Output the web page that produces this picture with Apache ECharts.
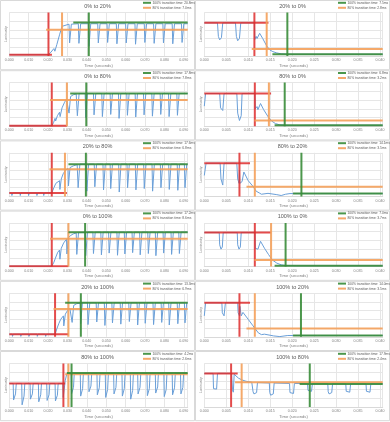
<!DOCTYPE html>
<html><head><meta charset="utf-8">
<script src="https://cdn.jsdelivr.net/npm/echarts@6/dist/echarts.min.js"></script>
<style>html,body{margin:0;padding:0;background:#fff}#c{width:390px;height:422px}</style>
</head><body><div id="c"></div>
<script>
const titles = ['0% to 20%','20% to 0%','0% to 80%','80% to 0%','20% to 80%','80% to 20%','0% to 100%','100% to 0%','20% to 100%','100% to 20%','80% to 100%','100% to 80%'];
const t100 = [20.8, 7.5, 17.8, 6.8, 17.6, 14.1, 17.2, 7.0, 13.3, 14.0, 4.2, 17.9];
const t80 = [7.0, 2.8, 7.8, 3.2, 6.8, 3.5, 8.6, 3.7, 6.9, 3.5, 2.6, 2.4];
const startTime = [20.2, 11.4, 21.9, 11.5, 21.9, 8.0, 21.9, 11.5, 23.6, 8.0, 27.9, 6.1];
const startLevel = [3, 76, 1, 75, 8, 76, 1, 78, 6, 78, 54, 77];
const startLineEnd = [22, 14.6, 29.7, 15.2, 29.7, 10.4, 30.5, 15.2, 30.5, 10.4, 28.8, 7.6];
const level80 = [60, 16, 60, 13, 62, 22, 64, 15, 64, 19, 75, 57];
const level80From = [19, 10.8, 21, 11.4, 20.7, 9.6, 21, 11.4, 22.8, 9.6, 28.8, 7];
const endLevel = [77, 4, 75, 2, 74, 6.5, 79, 2, 78, 3, 78, 53];
const endLineFrom = [33, 15.5, 31.4, 16, 30.5, 20.2, 30.5, 16, 28.8, 20.2, 29.7, 21.7];
const timeMax = [92, 40.6, 92, 40.6, 92, 40.6, 92, 40.6, 92, 40.6, 92, 40.6];
const timeStep = [10, 5, 10, 5, 10, 5, 10, 5, 10, 5, 10, 5];

const blue1 = [[0,3],[20.2,3],[21.5,9],[23,17],[23.5,11],[24.5,26],[26,50],[27.2,68],[28.2,72],[30.8,73],[31.1,30],[32.0,73],
[35.6,74],[35.9,29],[36.8,74],[40.8,74],[41.1,22],[42.0,74],[45.6,74],[45.9,30],[46.8,74],[50.4,74],[50.7,31],[51.6,74],
[55.2,74],[55.5,28],[56.4,74],[60.0,74],[60.3,30],[61.2,74],[64.8,74],[65.1,27],[66.0,74],[69.6,74],[69.9,31],[70.8,74],
[74.4,74],[74.7,29],[75.6,74],[79.2,74],[79.5,30],[80.4,74],[84.0,74],[84.3,28],[85.2,74],[88.8,74],[89.1,31],[90.0,74],[92,74]];
const blue2 = [[0,76],[3.0,76],[3.2,45],[3.5,37],[3.9,42],[4.2,76],[7.1,76],[7.3,45],[7.6,35],[8.0,40],[8.3,76],[11.4,76],[11.5,38],[11.8,45],[12.0,40],[12.6,52],[13.3,40],[14.2,23],[14.9,14],[15.6,10],[16.5,7],[17.5,5],[18.5,4.5],[20,4],[25,4],[25.2,2.5],[25.6,4],[29.3,4],[29.5,2.5],[29.9,4],[33.6,4],[33.8,2.5],[34.2,4],[37.9,4],[38.1,2.5],[38.5,4],[40.6,4]];
const blue3 = [[0,1],[21.9,1],[22.8,8],[23.6,18],[23.9,12],[24.8,24],[25.9,32],[26.2,22],[27.2,42],[28.5,55],[29.5,62],[30.5,66],[30.8,30],[31.6,68],[33,72],[34.5,74],[34.8,74],[35.1,24],[36.0,75],
[39.1,75],[39.4,20],[40.3,75],[43.4,75],[43.7,26],[44.6,75],[47.7,75],[48.0,22],[48.9,75],[52.0,75],[52.3,27],[53.2,75],
[56.3,75],[56.6,18],[57.5,75],[60.6,75],[60.9,25],[61.8,75],[64.9,75],[65.2,21],[66.1,75],[69.2,75],[69.5,26],[70.4,75],
[73.5,75],[73.8,23],[74.7,75],[77.8,75],[78.1,27],[79.0,75],[82.1,75],[82.4,22],[83.3,75],[86.4,75],[86.7,25],[87.6,75],[92,75]];
const blue4 = [[0,46],[0.3,75],[3.5,75],[3.7,42],[4.2,36],[4.5,75],[7.4,75],[7.6,30],[8.0,13],[8.4,24],[8.6,75],[11.5,75],[11.6,40],[12.0,45],[12.2,38],[12.8,52],[13.5,38],[14.5,22],[15.3,12],[16.2,6],[17.2,3],[18.5,2],[21,1.5],[25,2],[30,2],[40.6,2]];
const blue5 = [[0,8],[1.2,8],[1.35,2],[1.7,8],[5.5,8],[5.65,2],[6.0,8],[9.8,8],[9.95,2],[10.3,8],[14.1,8],[14.25,2],[14.6,8],[17.6,8],[17.75,2],[18.1,8],[21.9,8],[23,20],[24,30],[25.9,36],[26.1,16],[26.8,40],[27.8,52],[29,60],[30.3,64],[30.5,24],[31.3,66],[33,70],[35,73],
[35.2,73],[35.5,20],[36.4,74],[39.7,74],[40.0,12],[40.9,74],[43.8,74],[44.1,22],[45.0,74],[48.3,74],[48.6,15],[49.5,74],
[52.0,74],[52.3,18],[53.2,74],[56.4,74],[56.7,10],[57.6,74],[60.7,74],[61.0,20],[61.9,74],[65.0,74],[65.3,15],[66.2,74],
[69.3,74],[69.6,18],[70.5,74],[73.6,74],[73.9,12],[74.8,74],[77.9,74],[78.2,20],[79.1,74],[82.2,74],[82.5,16],[83.4,74],
[86.6,74],[86.9,14],[87.8,74],[90.3,74],[90.6,20],[91.5,74],[92,74]];
const blue6 = [[0,48],[0.4,76],[3.6,76],[3.8,40],[4.2,26],[4.5,76],[7.4,76],[7.6,40],[7.9,30],[8.0,60],[8.1,30],[8.6,34],[9.0,56],[10.0,36],[11.0,24],[11.8,12],[12.5,8],[13.0,5],[13.4,8],[14.5,7],[16.5,4],[17.5,2],[18.5,5],[19.5,6.5],[21.3,6.5],[21.5,3],[21.9,6.5],[25.8,6.5],[26,3],[26.4,6.5],[30,6.5],[30.2,3],[30.6,6.5],[34.1,6.5],[34.3,3],[34.7,6.5],[38.3,6.5],[38.5,3],[38.9,6.5],[40.6,6.5]];
const blue7 = [[0,1],[21.9,1],[23,10],[24,22],[25,33],[25.9,38],[26.1,17],[26.8,42],[28,54],[29.5,63],[29.7,29],[30.5,66],[31.5,71],[33,75],[34.5,77],[34.8,28],[35.7,78],
[39.1,78],[39.4,25],[40.3,79],[43.1,79],[43.4,30],[44.3,79],[47.2,79],[47.5,27],[48.4,79],[51.2,79],[51.5,31],[52.4,79],
[55.5,79],[55.8,26],[56.7,79],[59.3,79],[59.6,29],[60.5,79],[63.3,79],[63.6,32],[64.5,79],[67.2,79],[67.5,27],[68.4,79],
[71.4,79],[71.7,30],[72.6,79],[75.3,79],[75.6,25],[76.5,79],[79.3,79],[79.6,31],[80.5,79],[83.4,79],[83.7,28],[84.6,79],
[87.4,79],[87.7,30],[88.6,79],[92,79]];
const blue8 = [[0,78],[3.4,78],[3.5,50],[3.8,40],[4.1,45],[4.3,78],[7.5,78],[7.6,50],[7.9,40],[8.2,45],[8.4,78],[11.5,78],[11.6,42],[12.0,46],[12.2,40],[12.8,58],[13.7,42],[14.6,28],[15.5,15],[16.5,8],[17.5,4],[18.5,2.5],[21,2],[40.6,2]];
const blue9 = [[0,6],[1.5,6],[1.65,1],[2.0,6],[5.8,6],[5.95,1],[6.3,6],[10.0,6],[10.15,1],[10.5,6],[14.3,6],[14.45,1],[14.8,6],[18.6,6],[18.75,1],[19.1,6],[23.6,6],[24.5,18],[25.5,30],[26.5,40],[27.9,48],[28.1,25],[28.9,52],[30,60],[31.2,66],[32.2,70],[32.4,33],[33.2,72],[34.8,76],[36.5,77],[36.8,30],[37.7,78],
[40.3,78],[40.6,28],[41.5,78],[44.8,78],[45.1,34],[46.0,78],[49.0,78],[49.3,26],[50.2,78],[52.9,78],[53.2,32],[54.1,78],
[57.2,78],[57.5,29],[58.4,78],[61.6,78],[61.9,35],[62.8,78],[65.9,78],[66.2,27],[67.1,78],[69.8,78],[70.1,31],[71.0,78],
[74.1,78],[74.4,28],[75.3,78],[78.3,78],[78.6,33],[79.5,78],[82.2,78],[82.5,27],[83.4,78],[86.6,78],[86.9,30],[87.8,78],
[90.3,78],[90.6,32],[91.5,78],[92,78]];
const blue10 = [[0,48],[0.3,78],[4.0,78],[4.1,55],[4.5,48],[4.8,78],[7.6,78],[7.7,55],[8.0,48],[8.1,70],[8.4,48],[8.8,56],[9.1,60],[10.0,40],[11.1,25],[12.3,9],[13.0,5],[13.3,8],[13.7,6],[15.8,2],[17.2,0.5],[19,3],[21.3,3],[21.5,1],[21.9,3],[25.8,3],[26,1],[26.4,3],[30,3],[30.2,1],[30.6,3],[34.1,3],[34.3,1],[34.7,3],[38.3,3],[38.5,1],[38.9,3],[40.6,3]];
const blue11 = [[0,54],[2.0,54],[2.2,16],[3.2,30],[3.6,54],[6.4,54],[6.6,5],[7.6,25],[8.0,54],[10.7,54],[10.9,18],[11.9,30],[12.3,54],
[15.0,54],[15.2,12],[16.2,28],[16.6,54],[19.3,54],[19.5,15],[20.5,28],[20.9,54],[23.6,54],[23.8,14],[24.8,27],[25.2,54],
[27.6,54],[27.8,22],[28.3,40],[28.8,60],[29.7,77],[31.9,77],[32.1,30],[33.1,45],[33.5,77],[36.6,77],[36.8,25],[37.8,42],[38.2,77],
[40.9,77],[41.1,35],[42.1,48],[42.5,77],[45.2,77],[45.4,28],[46.4,44],[46.8,77],[49.5,77],[49.7,22],[50.7,40],[51.1,77],
[53.8,77],[54.0,30],[55.0,45],[55.4,77],[58.1,77],[58.3,25],[59.3,42],[59.7,77],[62.4,77],[62.6,18],[63.6,38],[64.0,77],
[66.2,77],[66.4,30],[67.4,45],[67.8,77],[71.0,77],[71.2,26],[72.2,42],[72.6,77],[75.3,77],[75.5,32],[76.5,46],[76.9,77],
[79.7,77],[79.9,24],[80.9,40],[81.3,77],[84.0,77],[84.2,28],[85.2,44],[85.6,77],[88.3,77],[88.5,30],[89.5,45],[89.9,77],[92,77]];
const blue12 = [[0,77],[2.0,77],[2.1,42],[2.3,39],[2.8,41],[3.0,77],[6.2,77],[6.4,40],[6.6,34],[6.8,75],[7.2,79],[7.8,66],[8.6,62],[9.5,59],[10.8,57],[11.0,57],[11.1,35],[11.3,30],[11.9,33],[12.1,56],
[14.8,55],[14.9,33],[15.1,27],[15.7,30],[15.9,55],[19.4,54],[19.5,33],[19.7,29],[20.3,31],[20.5,54],[23.5,53.5],[23.6,38],[23.8,34],[24.4,36],[24.6,53.5],
[28.1,53.5],[28.2,35],[28.4,30],[29.0,33],[29.2,53.5],[32.2,53],[32.3,36],[32.5,32],[33.1,34],[33.3,53],[36.8,53],[36.9,36],[37.1,32],[37.7,34],[37.9,53],[40.6,53]];
const blueSeries = [blue1, blue2, blue3, blue4, blue5, blue6, blue7, blue8, blue9, blue10, blue11, blue12];

const PW = 195, PH = 70.2;
const RED = 'rgba(222,45,45,0.85)', ORANGE = 'rgba(244,160,90,0.9)', GREEN = 'rgba(56,140,56,0.9)', BLUE = '#6a9fd8';
const FONT = 'Liberation Sans, Arial, sans-serif';
const grids = [], xAxes = [], yAxes = [], series = [], legends = [], graphics = [];

for (let i = 0; i < 12; i++) {
  const r = Math.floor(i / 2), c = i % 2;
  const x0 = c * PW, y0 = r * PH;
  graphics.push({type: 'rect', shape: {x: x0 + 0.5, y: y0 + 0.5, width: PW - 1, height: PH - 1}, style: {fill: 'none', stroke: '#d9d9d9', lineWidth: 1}, silent: true});
  graphics.push({type: 'text', x: x0 + 97.5, y: y0 + 3.2, style: {text: titles[i], textAlign: 'center', fontSize: 5.5, fill: '#595959', fontFamily: FONT}, silent: true});
  grids.push({left: x0 + 9.3, top: y0 + 12.4, width: 178.4, height: 43.6});
  xAxes.push({
    gridIndex: i, type: 'value', min: 0, max: timeMax[i], interval: timeStep[i],
    axisLabel: {fontSize: 3.6, color: '#7f7f7f', margin: 2.2, showMaxLabel: false, fontFamily: FONT,
      formatter: v => (v / 1000).toFixed(3)},
    axisTick: {show: false},
    axisLine: {lineStyle: {color: '#d9d9d9', width: 1}},
    splitLine: {lineStyle: {color: '#e6e6e6', width: 1}},
    name: 'Time (seconds)', nameLocation: 'middle', nameGap: 7.5,
    nameTextStyle: {fontSize: 4.2, color: '#7f7f7f', fontFamily: FONT}
  });
  yAxes.push({
    gridIndex: i, type: 'value', min: 0, max: 100, interval: 20,
    axisLabel: {show: false}, axisTick: {show: false}, axisLine: {show: false},
    splitLine: {lineStyle: {color: '#e6e6e6', width: 1}},
    name: 'Luminosity', nameLocation: 'middle', nameRotate: 90, nameGap: 2.2,
    nameTextStyle: {fontSize: 3.3, color: '#7f7f7f', fontFamily: FONT}
  });
  const gName = '100% transition time: ' + t100[i].toFixed(1) + 'ms';
  const oName = '80% transition time: ' + t80[i].toFixed(1) + 'ms';
  const xMax = timeMax[i];
  const tRed = startTime[i], tOr = startTime[i] + t80[i], tGr = startTime[i] + t100[i];
  const base = {type: 'line', xAxisIndex: i, yAxisIndex: i, showSymbol: false, symbol: 'none', silent: true, animation: false};
  series.push(Object.assign({}, base, {name: 'Response ' + (i + 1), data: blueSeries[i], z: 2, lineStyle: {color: BLUE, width: 1}, itemStyle: {color: BLUE}}));
  const mk = (name, color, data) => Object.assign({}, base, {name, data, z: 3, lineStyle: {color, width: 2}, itemStyle: {color}});
  series.push(mk('Start ' + (i + 1), RED, [[0, startLevel[i]], [startLineEnd[i], startLevel[i]]]));
  series.push(mk('Start ' + (i + 1), RED, [[tRed, 0], [tRed, 100]]));
  series.push(mk(oName, ORANGE, [[level80From[i], level80[i]], [xMax, level80[i]]]));
  series.push(mk(oName, ORANGE, [[tOr, 0], [tOr, 100]]));
  series.push(mk(gName, GREEN, [[endLineFrom[i], endLevel[i]], [xMax, endLevel[i]]]));
  series.push(mk(gName, GREEN, [[tGr, 0], [tGr, 100]]));
  legends.push({
    left: x0 + 143, top: y0 + 1.3, orient: 'vertical', padding: 0, itemGap: 2,
    itemWidth: 8, itemHeight: 2, icon: 'rect', selectedMode: false,
    textStyle: {fontSize: 3.3, color: '#595959', fontFamily: FONT, padding: [0, 0, 0, -3.5]},
    data: [gName, oName]
  });
}

const chart = echarts.init(document.getElementById('c'), null, {renderer: 'canvas'});
chart.setOption({
  animation: false,
  backgroundColor: '#ffffff',
  grid: grids, xAxis: xAxes, yAxis: yAxes, series, legend: legends,
  graphic: graphics
});
</script></body></html>
